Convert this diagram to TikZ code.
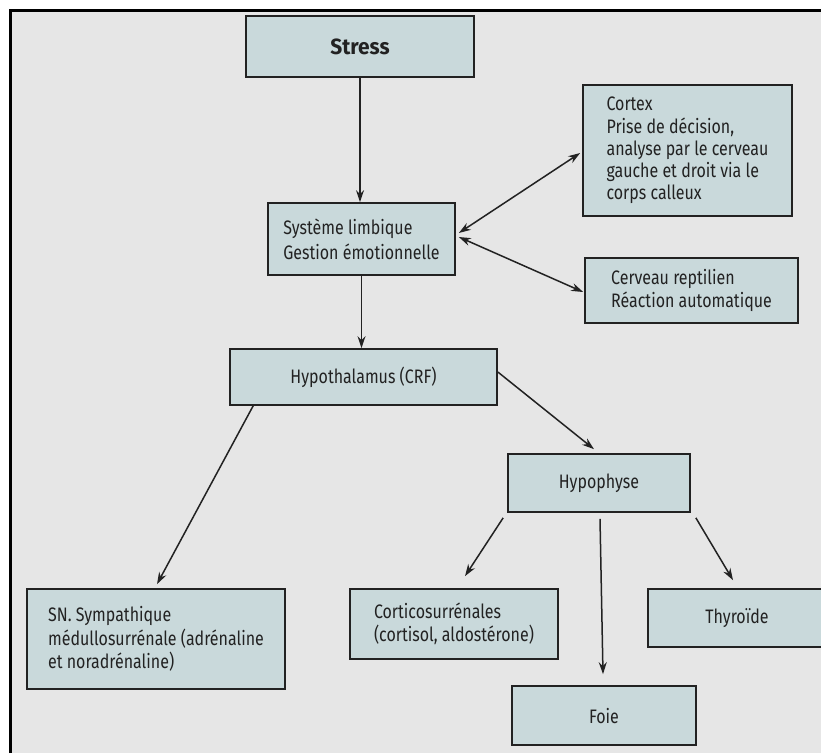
\documentclass[tikz,border=0pt]{standalone}
\usepackage{fontspec}
\setmainfont{Fira Sans}[FakeStretch=0.82, BoldFeatures={FakeStretch=0.95}]
\usetikzlibrary{calc,arrows.meta}
\definecolor{boxfill}{HTML}{C9D9DB}
\definecolor{pagebg}{HTML}{E6E6E6}
\definecolor{ink}{HTML}{222222}
\begin{document}
\begin{tikzpicture}[x=1pt,y=-1pt,
  box/.style={draw=ink,line width=1.7pt,fill=boxfill,text=ink,inner sep=0pt,align=left,
              font=\fontsize{19.5}{23.3}\selectfont},
  arr/.style={draw=ink,line width=1.5pt,-{Stealth[length=12pt,width=8pt]}},
  biarr/.style={draw=ink,line width=1.5pt,{Stealth[length=12pt,width=8pt]}-{Stealth[length=12pt,width=8pt]}}]
\useasboundingbox (0,0) rectangle (821,753);
\clip (0,0) rectangle (821,753);
\fill[white] (0,0) rectangle (821,753);
\fill[pagebg] (10,10) rectangle (821,753);
\draw[black,line width=3pt] (10,753) -- (10,10) -- (821,10);

\node[box,minimum width=228pt,minimum height=61pt,font=\bfseries\fontsize{22}{26}\selectfont] (stress) at (360,46.5) {Stress};
\node[box,minimum width=209pt,minimum height=131pt,font=\fontsize{19.5}{22.2}\selectfont] (cortex) at (687.5,150.5)
  {Cortex\\Prise de décision,\\analyse par le cerveau\\gauche et droit via le\\corps calleux};
\node[box,minimum width=187pt,minimum height=72pt,font=\fontsize{19.5}{25}\selectfont] (limb) at (361.5,239)
  {Système limbique\\Gestion émotionnelle};
\node[box,minimum width=213pt,minimum height=65pt] (rept) at (691.5,290.5)
  {Cerveau reptilien\\Réaction automatique};
\node[box,minimum width=267pt,minimum height=56pt] (hypo) at (363.5,377) {Hypothalamus (CRF)};
\node[box,minimum width=182pt,minimum height=58pt] (hypoph) at (599,483) {Hypophyse};
\node[box,minimum width=258pt,minimum height=100pt] (sn) at (156,639)
  {SN. Sympathique\\médullosurrénale (adrénaline\\et noradrénaline)};
\node[box,minimum width=208pt,minimum height=70pt] (cortico) at (454,624)
  {Corticosurrénales\\(cortisol, aldostérone)};
\node[box,minimum width=178pt,minimum height=58pt] (thyro) at (737,618) {Thyroïde};
\node[box,minimum width=184pt,minimum height=59pt] (foie) at (604,715.5) {Foie};

\draw[arr] (stress.south) -- (stress.south |- limb.north);
\draw[biarr] ($(limb.east)+(3,-6)$) -- ($(cortex.west)+(-2,2.5)$);
\draw[biarr] ($(limb.east)+(3,-2)$) -- ($(rept.west)+(-1,1.5)$);
\draw[arr] (limb.south) -- (limb.south |- hypo.north);
\draw[arr] ($(hypo.east)+(0,-5)$) -- ($(hypoph.north)+(-5,-4)$);
\draw[arr] ($(hypo.south west)+(24,0)$) -- ($(sn.north)+(1,-4)$);
\draw[arr] ($(hypoph.south west)+(-4,5)$) -- ($(cortico.north)+(11,-12)$);
\draw[arr] ($(hypoph.south)+(1,6)$) -- ($(foie.north)+(-1,-11)$);
\draw[arr] ($(hypoph.south east)+(5,5)$) -- ($(thyro.north)+(-4,-8)$);
\end{tikzpicture}
\end{document}
